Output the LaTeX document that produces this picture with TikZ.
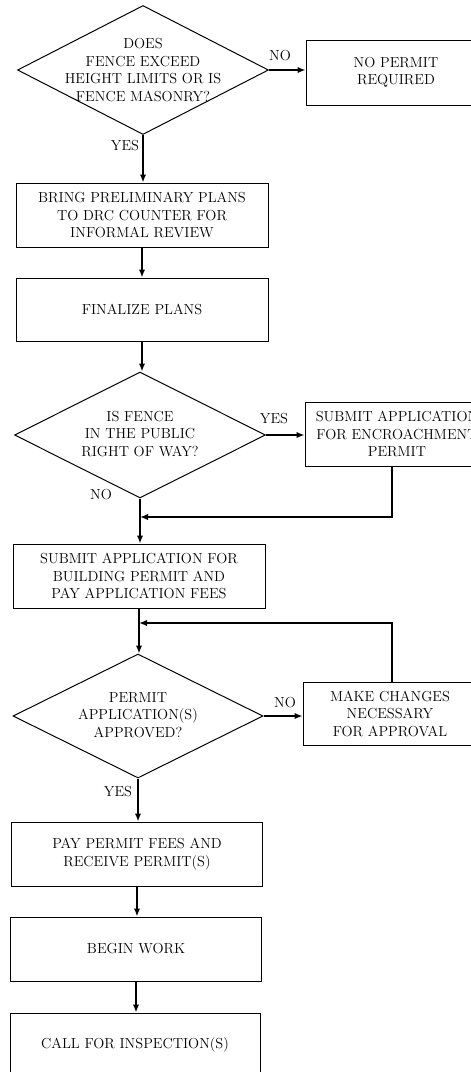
\documentclass[tikz,border=0pt]{standalone}
\usetikzlibrary{shapes.geometric,arrows.meta}
\tikzset{
  txt/.style={font=\fontsize{14.5}{17.5}\selectfont, align=center},
  box/.style={txt, draw, line width=1pt, rectangle, minimum height=64pt, inner sep=0pt},
  decision/.style={draw, line width=1pt, diamond, inner sep=0pt},
  lbl/.style={font=\fontsize{14.5}{17.5}\selectfont, inner sep=0pt},
  arr/.style={line width=1.6pt, -{Latex[length=8pt,width=6.5pt]}},
}
\begin{document}
\begin{tikzpicture}[x=1pt,y=-1pt]
	\useasboundingbox (0,0) rectangle (471,1072);
	\clip (0,0) rectangle (471,1072);
	% first question
	\node[decision, minimum width=251pt, minimum height=129pt] (d1) at (143,70) {};
	\node[txt] (d1t) at (143,70) {DOES\\FENCE EXCEED\\HEIGHT LIMITS OR IS\\FENCE MASONRY?};
	\node[box, minimum width=180pt, minimum height=65pt] (np) at (396,72.5) {NO PERMIT\\REQUIRED};
	\node[box, minimum width=252pt] (b1) at (142,215) {BRING PRELIMINARY PLANS\\TO DRC COUNTER FOR\\INFORMAL REVIEW};
	\node[box, minimum width=252pt, minimum height=63pt] (b2) at (142,309.5) {FINALIZE PLANS};
	% second question
	\node[decision, minimum width=251pt, minimum height=126pt] (d2) at (140,435) {};
	\node[txt] (d2t) at (140,434) {IS FENCE\\IN THE PUBLIC\\RIGHT OF WAY?};
	\node[box, minimum width=184pt] (enc) at (397,434) {SUBMIT APPLICATION\\FOR ENCROACHMENT\\PERMIT};
	\node[box, minimum width=252pt] (b3) at (139,576) {SUBMIT APPLICATION FOR\\BUILDING PERMIT AND\\PAY APPLICATION FEES};
	% third question
	\node[decision, minimum width=250pt, minimum height=124pt] (d3) at (138,716) {};
	\node[txt] (d3t) at (138,715) {PERMIT\\APPLICATION(S)\\APPROVED?};
	\node[box, minimum width=174pt, minimum height=63pt] (mc) at (390,713.5) {MAKE CHANGES\\NECESSARY\\FOR APPROVAL};
	\node[box, minimum width=251pt] (b4) at (137,854) {PAY PERMIT FEES AND\\RECEIVE PERMIT(S)};
	\node[box, minimum width=251pt] (b5) at (136,949) {BEGIN WORK};
	\node[box, minimum width=250pt] (b6) at (135,1045) {CALL FOR INSPECTION(S)};
	\coordinate (j1) at (140,517);
	\coordinate (j2) at (139,623);
	% connectors
	\draw[arr] (d1.east) -- (d1.east -| np.west);
	\draw[arr] (d1.south) -- (d1.south |- b1.north);
	\draw[arr] (b1.south) -- (b1.south |- b2.north);
	\draw[arr] (b2.south) -- (b2.south |- d2.north);
	\draw[arr] (d2.east) -- (d2.east -| enc.west);
	\draw[arr] (d2.south) -- (d2.south |- b3.north);
	\draw[arr] ([xshift=-5pt]enc.south) |- (j1);
	\draw[arr] (b3.south) -- (b3.south |- d3.north);
	\draw[arr] (d3.east) -- (d3.east -| mc.west);
	\draw[arr] ([xshift=2pt]mc.north) |- (j2);
	\draw[arr] (d3.south) -- (d3.south |- b4.north);
	\draw[arr] (b4.south) -- (b4.south |- b5.north);
	\draw[arr] (b5.south) -- (b5.south |- b6.north);
	% answers
	\node[lbl] (l1) at (280,56) {NO};
	\node[lbl] (l2) at (125,146) {YES};
	\node[lbl] (l3) at (274,419) {YES};
	\node[lbl] (l4) at (101,495) {NO};
	\node[lbl] (l5) at (285,703) {NO};
	\node[lbl] (l6) at (118,792) {YES};
\end{tikzpicture}
\end{document}
